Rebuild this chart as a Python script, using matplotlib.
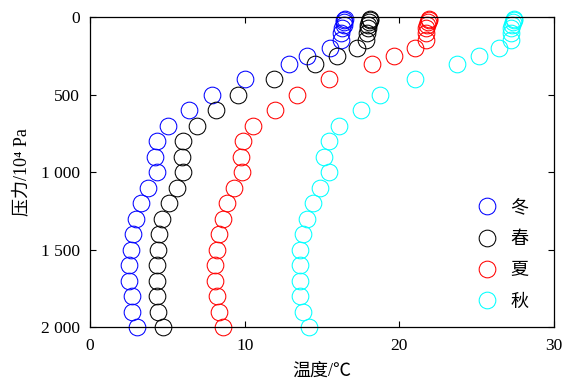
import matplotlib
matplotlib.use('Agg')
import matplotlib.pyplot as plt
from matplotlib.ticker import FuncFormatter

plt.rcParams['font.family'] = ['Liberation Serif', 'Noto Sans CJK SC']

# pressure levels (10^4 Pa)
levels = [10, 20, 30, 50, 70, 100, 150, 200, 250, 300, 400,
          500, 600, 700, 800, 900, 1000, 1100, 1200, 1300, 1400, 1500,
          1600, 1700, 1800, 1900, 2000]

# temperature profiles (°C) by season
winter = [16.5, 16.45, 16.4, 16.4, 16.3, 16.25, 16.2,
          15.5, 14.05, 12.84, 9.99, 7.87, 6.43, 5.07, 4.31, 4.21, 4.36, 3.78,
          3.28, 2.98, 2.80, 2.65, 2.55, 2.55, 2.70, 2.70, 3.06]
spring = [18.1, 18.1, 18.05, 18.0, 17.95, 17.9, 17.85,
          17.26, 15.97, 14.56, 11.87, 9.60, 8.16, 6.90, 6.04, 5.93, 6.04, 5.61,
          5.13, 4.64, 4.49, 4.38, 4.31, 4.36, 4.31, 4.42, 4.70]
summer = [21.95, 21.9, 21.85, 21.8, 21.75, 21.7, 21.7,
          21.04, 19.63, 18.23, 15.48, 13.38, 11.97, 10.57, 9.88, 9.75, 9.82, 9.30,
          8.85, 8.63, 8.37, 8.20, 8.09, 8.09, 8.20, 8.37, 8.63]
autumn = [27.4, 27.4, 27.35, 27.3, 27.25, 27.2, 27.2,
          26.47, 25.18, 23.73, 21.04, 18.77, 17.52, 16.07, 15.43, 15.10, 15.43, 14.84,
          14.45, 14.02, 13.77, 13.55, 13.55, 13.55, 13.55, 13.77, 14.13]

series = [(winter, '#0000ff', '冬'), (spring, '#000000', '春'),
          (summer, '#ff0000', '夏'), (autumn, '#00ffff', '秋')]

fig = plt.figure(figsize=(5.65, 3.83), dpi=100)
ax = fig.add_axes([0.1593, 0.1462, 0.8212, 0.8094])

for temps, col, lab in series:
    ax.plot(temps, levels, 'o', ms=12, mfc='none', mec=col, mew=0.75,
            label=lab, clip_on=False)

ax.set_xlim(0, 30)
ax.set_ylim(2000, 0)
ax.set_xticks([0, 10, 20, 30])
ax.set_yticks([0, 500, 1000, 1500, 2000])
ax.yaxis.set_major_formatter(FuncFormatter(lambda v, p: f'{int(v):,}'.replace(',', ' ')))
ax.tick_params(direction='in', top=True, right=True, length=4, width=0.8,
               labelsize=12.5)
ax.tick_params(axis='x', pad=8)
ax.tick_params(axis='y', pad=7)
for s in ax.spines.values():
    s.set_linewidth(0.9)

ax.set_xlabel('温度/℃', fontsize=13, labelpad=6)
ax.set_ylabel('压力/10⁴ Pa', fontsize=13, labelpad=8)

ax.legend(loc='lower right', bbox_to_anchor=(0.98, 0.0), frameon=False,
          fontsize=13, handletextpad=0.3, labelspacing=0.8, markerscale=1.0)

fig.savefig('out.png', dpi=100)
